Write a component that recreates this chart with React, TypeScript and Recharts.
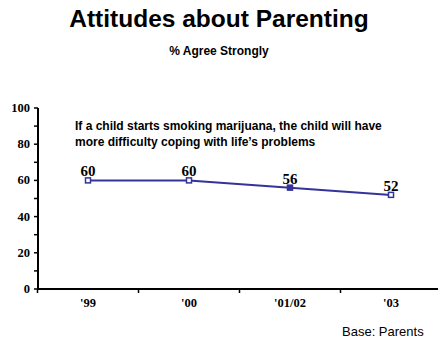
import React from "react";
import { LineChart, Line, XAxis, YAxis, LabelList } from "recharts";

const years = ["'99", "'00", "'01/02", "'03"];
const agreeStrongly = [60, 60, 56, 52];
const yTicks = [0, 10, 20, 30, 40, 50, 60, 70, 80, 90, 100];

const data = years.map((year, i) => ({ year, value: agreeStrongly[i] }));

const BLUE = "#333399";
const SERIF = "'Liberation Serif', 'Times New Roman', serif";
const SANS = "'Liberation Sans', Arial, sans-serif";
const BAND = 101;

function YTick(props: any) {
  const { x, y, payload } = props;
  if (payload.value % 20 !== 0) return null;
  return (
    <text x={x} y={y} dy={4} textAnchor="end" fontFamily={SERIF} fontWeight="bold" fontSize={12.5} fill="#000">
      {payload.value}
    </text>
  );
}

function XTick(props: any) {
  const { x, y, payload } = props;
  const left = x - BAND / 2;
  return (
    <g>
      <line x1={left} x2={left} y1={y - 8} y2={y - 4} stroke="#000" strokeWidth={1.5} />
      <text x={x} y={y + 10} textAnchor="middle" fontFamily={SERIF} fontWeight="bold" fontSize={12.5} fill="#000">
        {payload.value}
      </text>
    </g>
  );
}

function Marker(props: any) {
  const { cx, cy, index } = props;
  const filled = index === 2;
  return (
    <rect
      x={cx - 2.5}
      y={cy - 2.5}
      width={5}
      height={5}
      fill={filled ? BLUE : "#fff"}
      stroke={BLUE}
      strokeWidth={1.5}
    />
  );
}

export default function App() {
  return (
    <div style={{ position: "absolute", left: 0, top: 0, width: 438, height: 349, overflow: "hidden", background: "#fff" }}>
      <div style={{ position: "absolute", left: 0, width: 438, top: 5, textAlign: "center", fontFamily: SANS, fontWeight: "bold", fontSize: 24.5, color: "#000" }}>
        Attitudes about Parenting
      </div>
      <div style={{ position: "absolute", left: 0, width: 438, top: 44, textAlign: "center", fontFamily: SANS, fontWeight: "bold", fontSize: 12, color: "#000" }}>
        % Agree Strongly
      </div>
      <div style={{ position: "absolute", left: 75, top: 118, fontFamily: SANS, fontWeight: "bold", fontSize: 12, lineHeight: "16px", color: "#000", whiteSpace: "nowrap" }}>
        If a child starts smoking marijuana, the child will have
        <br />
        more difficulty coping with life’s problems
      </div>
      <div style={{ position: "absolute", left: 342, top: 324, fontFamily: SANS, fontSize: 13, color: "#000", whiteSpace: "nowrap" }}>
        Base: Parents
      </div>
      <LineChart width={446} height={349} data={data} margin={{ top: 108, right: 5, bottom: 30, left: 0 }} style={{ position: "absolute", left: 0, top: 0 }}>
        <XAxis
          dataKey="year"
          axisLine={{ stroke: "#000", strokeWidth: 2 }}
          tickLine={false}
          tick={<XTick />}
          height={30}
          interval={0}
          padding={{ left: 50, right: 50 }}
        />
        <YAxis
          domain={[0, 100]}
          ticks={yTicks}
          interval={0}
          width={38}
          tickSize={4}
          tickMargin={4}
          axisLine={{ stroke: "#000", strokeWidth: 2 }}
          tickLine={{ stroke: "#000", strokeWidth: 1.5 }}
          tick={<YTick />}
        />
        <Line
          type="linear"
          dataKey="value"
          stroke={BLUE}
          strokeWidth={2}
          dot={<Marker />}
          activeDot={false}
          isAnimationActive={false}
        >
          <LabelList dataKey="value" position="top" offset={4} fill="#000" fontFamily={SERIF} fontWeight="bold" fontSize={15} />
        </Line>
      </LineChart>
    </div>
  );
}
